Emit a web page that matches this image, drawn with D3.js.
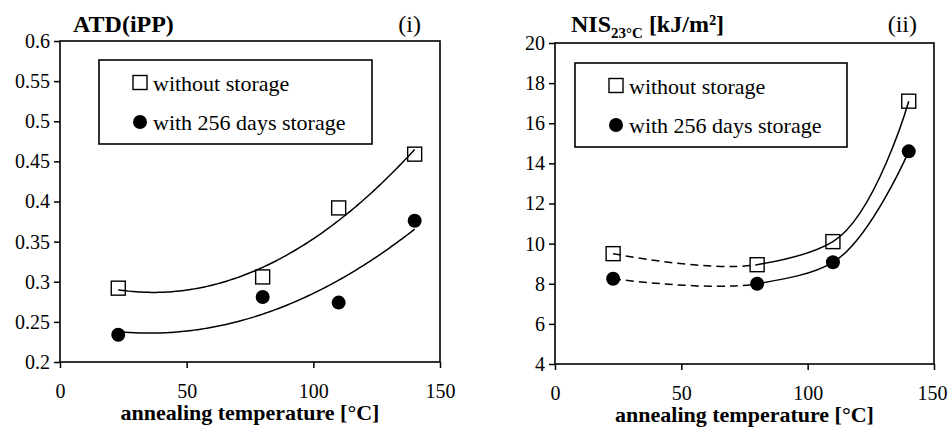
<!DOCTYPE html>
<html>
<head>
<meta charset="utf-8">
<script src="https://cdn.jsdelivr.net/npm/d3@7"></script>
<style>
  html, body { margin: 0; padding: 0; background: #fff; }
  svg { display: block; }
  text { font-family: "Liberation Serif", "Times New Roman", serif; fill: #000; }
</style>
</head>
<body>
<svg id="chart" width="948" height="434"></svg>
<script>
// Annealing temperatures [°C]
const temps = [23, 80, 110, 140];

// Panel (i): ATD(iPP)
const atdWithout = [0.292, 0.306, 0.392, 0.459];
const atdWith    = [0.234, 0.281, 0.274, 0.376];

// Panel (ii): notched impact strength at 23 °C [kJ/m²]
const nisWithout = [9.5, 8.95, 10.1, 17.1];
const nisWith    = [8.25, 8.0, 9.07, 14.6];

// Axis ticks
const xTicks = [0, 50, 100, 150];
const xTickLabels = ["0", "50", "100", "150"];
const atdTicks = [0.2, 0.25, 0.3, 0.35, 0.4, 0.45, 0.5, 0.55, 0.6];
const atdTickLabels = ["0.2", "0.25", "0.3", "0.35", "0.4", "0.45", "0.5", "0.55", "0.6"];
const nisTicks = [4, 6, 8, 10, 12, 14, 16, 18, 20];
const nisTickLabels = ["4", "6", "8", "10", "12", "14", "16", "18", "20"];

// Legend entries
const legendLabels = ["without storage", "with 256 days storage"];

const svg = d3.select("#chart");

// Least-squares quadratic fit y = a + b x + c x²
function quadFit(xs, ys) {
  const n = xs.length;
  const mx = d3.mean(xs);
  const u = xs.map(x => x - mx);
  const s2 = d3.sum(u, v => v * v), s3 = d3.sum(u, v => v ** 3), s4 = d3.sum(u, v => v ** 4);
  const sy = d3.sum(ys), suy = d3.sum(u, (v, i) => v * ys[i]), su2y = d3.sum(u, (v, i) => v * v * ys[i]);
  // Solve the 3x3 normal equations (Cramer's rule) in centred coordinates
  const A = [[n, 0, s2], [0, s2, s3], [s2, s3, s4]];
  const B = [sy, suy, su2y];
  const det = m => m[0][0]*(m[1][1]*m[2][2]-m[1][2]*m[2][1]) - m[0][1]*(m[1][0]*m[2][2]-m[1][2]*m[2][0]) + m[0][2]*(m[1][0]*m[2][1]-m[1][1]*m[2][0]);
  const D = det(A);
  const coef = [0, 1, 2].map(k => det(A.map((row, i) => row.map((v, j) => j === k ? B[i] : v))) / D);
  return x => { const t = x - mx; return coef[0] + coef[1] * t + coef[2] * t * t; };
}

// Record a curve's segments so parts of one smooth line can be styled differently
function curveSegments(points, curve) {
  const segs = [];
  let cur = null;
  const ctx = {
    moveTo(x, y) { cur = [x, y]; },
    lineTo(x, y) { segs.push({ from: cur, type: "L", pts: [x, y] }); cur = [x, y]; },
    bezierCurveTo(a, b, c, d, e, f) { segs.push({ from: cur, type: "C", pts: [a, b, c, d, e, f] }); cur = [e, f]; },
    closePath() {}
  };
  d3.line().curve(curve).context(ctx)(points);
  return segs;
}
function segPath(segs) {
  const p = d3.path();
  segs.forEach((s, i) => {
    if (i === 0) p.moveTo(s.from[0], s.from[1]);
    if (s.type === "C") p.bezierCurveTo(...s.pts); else p.lineTo(...s.pts);
  });
  return p.toString();
}

function drawPanel(cfg) {
  const { x0, x1, y0, y1 } = cfg;
  const g = svg.append("g");
  const x = d3.scaleLinear().domain([0, 150]).range([x0, x1]);
  const y = d3.scaleLinear().domain(cfg.yDomain).range([y1, y0]);

  // Axes
  const ax = g.append("g").attr("transform", `translate(0,${y1})`)
    .call(d3.axisBottom(x).tickValues(xTicks).tickFormat((d, i) => xTickLabels[i])
      .tickSize(6).tickSizeOuter(0).tickPadding(16));
  const ay = g.append("g").attr("transform", `translate(${x0},0)`)
    .call(d3.axisLeft(y).tickValues(cfg.yTicks).tickFormat((d, i) => cfg.yTickLabels[i])
      .tickSize(6).tickSizeOuter(0).tickPadding(4));
  [ax, ay].forEach(a => {
    a.select(".domain").remove();
    a.selectAll(".tick line").attr("stroke", "#000").attr("stroke-width", 1.5);
    a.selectAll(".tick text").style("font-family", "Liberation Serif").style("font-size", "20px").attr("fill", "#000");
  });
  // keep the last x label inside the page edge
  ax.selectAll(".tick text").filter((d, i) => i === xTicks.length - 1).attr("dx", cfg.lastLabelShift || 0);

  // Plot frame
  g.append("rect").attr("x", x0).attr("y", y0).attr("width", x1 - x0).attr("height", y1 - y0)
    .attr("fill", "none").attr("stroke", "#000").attr("stroke-width", 1.6);

  // Legend
  const L = cfg.legend;
  g.append("rect").attr("x", L.x).attr("y", L.y).attr("width", L.w).attr("height", L.h)
    .attr("fill", "none").attr("stroke", "#000").attr("stroke-width", 1.6);
  g.append("rect").attr("x", L.x + 41 - 7).attr("y", L.y + 22.5 - 7).attr("width", 14).attr("height", 14)
    .attr("fill", "none").attr("stroke", "#000").attr("stroke-width", 1.4);
  g.append("circle").attr("cx", L.x + 41).attr("cy", L.y + 62).attr("r", 7).attr("fill", "#000");
  legendLabels.forEach((t, i) => {
    g.append("text").attr("x", L.x + 54).attr("y", L.y + (i === 0 ? 30.5 : 70))
      .style("font-size", "22px").text(t);
  });

  // Curves
  cfg.drawCurves(g, x, y);

  // Markers
  const sq = cfg.series[0], ci = cfg.series[1];
  g.selectAll(null).data(temps).join("rect")
    .attr("x", d => x(d) - 7).attr("y", (d, i) => y(sq[i]) - 7)
    .attr("width", 14).attr("height", 14)
    .attr("fill", "none").attr("stroke", "#000").attr("stroke-width", 1.4);
  g.selectAll(null).data(temps).join("circle")
    .attr("cx", d => x(d)).attr("cy", (d, i) => y(ci[i])).attr("r", 7).attr("fill", "#000");

  // Axis title
  g.append("text").attr("x", (x0 + x1) / 2).attr("y", y1 + 58).attr("text-anchor", "middle")
    .style("font-size", "22px").style("font-weight", "bold").text("annealing temperature [°C]");

  // Panel label
  g.append("text").attr("x", cfg.tagX).attr("y", 32).attr("text-anchor", "end")
    .style("font-size", "24px").text(cfg.tag);

  return g;
}

// Panel (i): quadratic trend lines
const gi = drawPanel({
  x0: 60, x1: 440, y0: 41, y1: 362,
  yDomain: [0.2, 0.6], yTicks: atdTicks, yTickLabels: atdTickLabels,
  legend: { x: 99, y: 60, w: 273, h: 84 },
  series: [atdWithout, atdWith],
  tag: "(i)", tagX: 421,
  drawCurves(g, x, y) {
    const xs = d3.range(temps[0], temps[temps.length - 1] + 0.01, 1);
    [atdWithout, atdWith].forEach(s => {
      const f = quadFit(temps, s);
      g.append("path")
        .attr("d", d3.line().x(d => x(d)).y(d => y(f(d)))(xs))
        .attr("fill", "none").attr("stroke", "#000").attr("stroke-width", 1.5);
    });
  }
});
gi.append("text").attr("x", 73).attr("y", 32)
  .style("font-size", "24px").style("font-weight", "bold").text("ATD(iPP)");

// Panel (ii): smoothed lines, dashed over the first interval
const gii = drawPanel({
  x0: 555, x1: 934, y0: 43, y1: 364,
  yDomain: [4, 20], yTicks: nisTicks, yTickLabels: nisTickLabels,
  legend: { x: 575, y: 63, w: 272, h: 84 },
  series: [nisWithout, nisWith],
  tag: "(ii)", tagX: 917,
  lastLabelShift: -2,
  drawCurves(g, x, y) {
    [nisWithout, nisWith].forEach(s => {
      const pts = temps.map((t, i) => [x(t), y(s[i])]);
      const segs = curveSegments(pts, d3.curveCatmullRom.alpha(1));
      g.append("path").attr("d", segPath(segs.slice(0, 1)))
        .attr("fill", "none").attr("stroke", "#000").attr("stroke-width", 1.5)
        .attr("stroke-dasharray", "8,5");
      g.append("path").attr("d", segPath(segs.slice(1)))
        .attr("fill", "none").attr("stroke", "#000").attr("stroke-width", 1.5);
    });
  }
});
const nisTitle = gii.append("text").attr("x", 571).attr("y", 32)
  .style("font-size", "24px").style("font-weight", "bold");
nisTitle.append("tspan").text("NIS");
nisTitle.append("tspan").attr("dy", 6).style("font-size", "15px").text("23°C");
nisTitle.append("tspan").attr("dy", -6).text(" [kJ/m²]");
</script>
</body>
</html>
